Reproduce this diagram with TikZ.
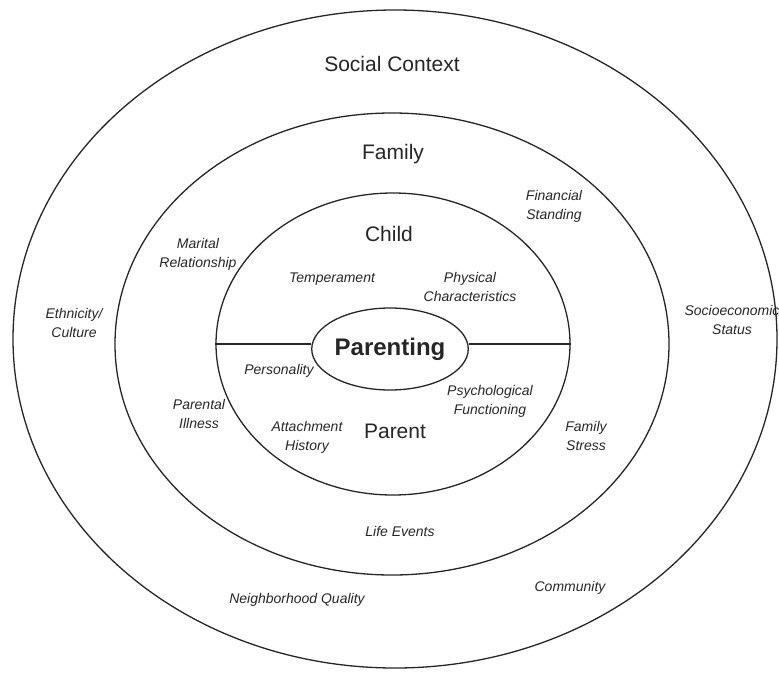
\documentclass[tikz,border=0pt]{standalone}
\usepackage{fontspec}
\setmainfont{Liberation Sans}
\usetikzlibrary{shapes, positioning}

\begin{document}
\begin{tikzpicture}[x=1pt, y=-1pt,
	ring/.style={ellipse, draw=black!85, line width=1.3pt, inner sep=0pt},
	level/.style={font=\fontsize{21}{24}\selectfont, text=black!85},
	factor/.style={font=\itshape\fontsize{14}{19}\selectfont, align=center, text=black!85}]
	\useasboundingbox (0,0) rectangle (779,672);
	% rings
	\node[ring, minimum width=764, minimum height=658] (social) at (395,339) {};
	\node[ring, minimum width=554, minimum height=462] (family) at (392,344) {};
	\node[ring, minimum width=354, minimum height=302] (child) at (393,344) {};
	\node[ring, minimum width=145, minimum height=82, text=black!85,
		font=\bfseries\fontsize{24}{28}\selectfont] (parenting) at (390,349) {Parenting};
	\draw[black!85, line width=1.3pt] (child.west) -- (child.west -| parenting.west);
	\draw[black!85, line width=1.3pt] (child.east) -- (child.east -| parenting.east);
	% levels
	\node[level] (context) at (392,64) {Social Context};
	\node[level] (familytxt) at (393,154) {Family};
	\node[level] (childtxt) at (389,234) {Child};
	\node[level] (parent) at (395,431) {Parent};
	% factors
	\node[factor] (financial) at (554,206) {Financial\\Standing};
	\node[factor] (marital) at (198,254) {Marital\\Relationship};
	\node[factor] (temperament) at (332,279) {Temperament};
	\node[factor] (physical) at (470,287) {Physical\\Characteristics};
	\node[factor] (ethnicity) at (74,323) {Ethnicity/\\Culture};
	\node[factor] (ses) at (732,320) {Socioeconomic\\Status};
	\node[factor] (personality) at (279,371) {Personality};
	\node[factor] (psych) at (490,401) {Psychological\\Functioning};
	\node[factor] (illness) at (199,414) {Parental\\Illness};
	\node[factor] (attachment) at (307,437) {Attachment\\History};
	\node[factor] (stress) at (586,436) {Family\\Stress};
	\node[factor] (events) at (400,531) {Life Events};
	\node[factor] (community) at (570,588) {Community};
	\node[factor] (neighborhood) at (297,600) {Neighborhood Quality};
\end{tikzpicture}
\end{document}
